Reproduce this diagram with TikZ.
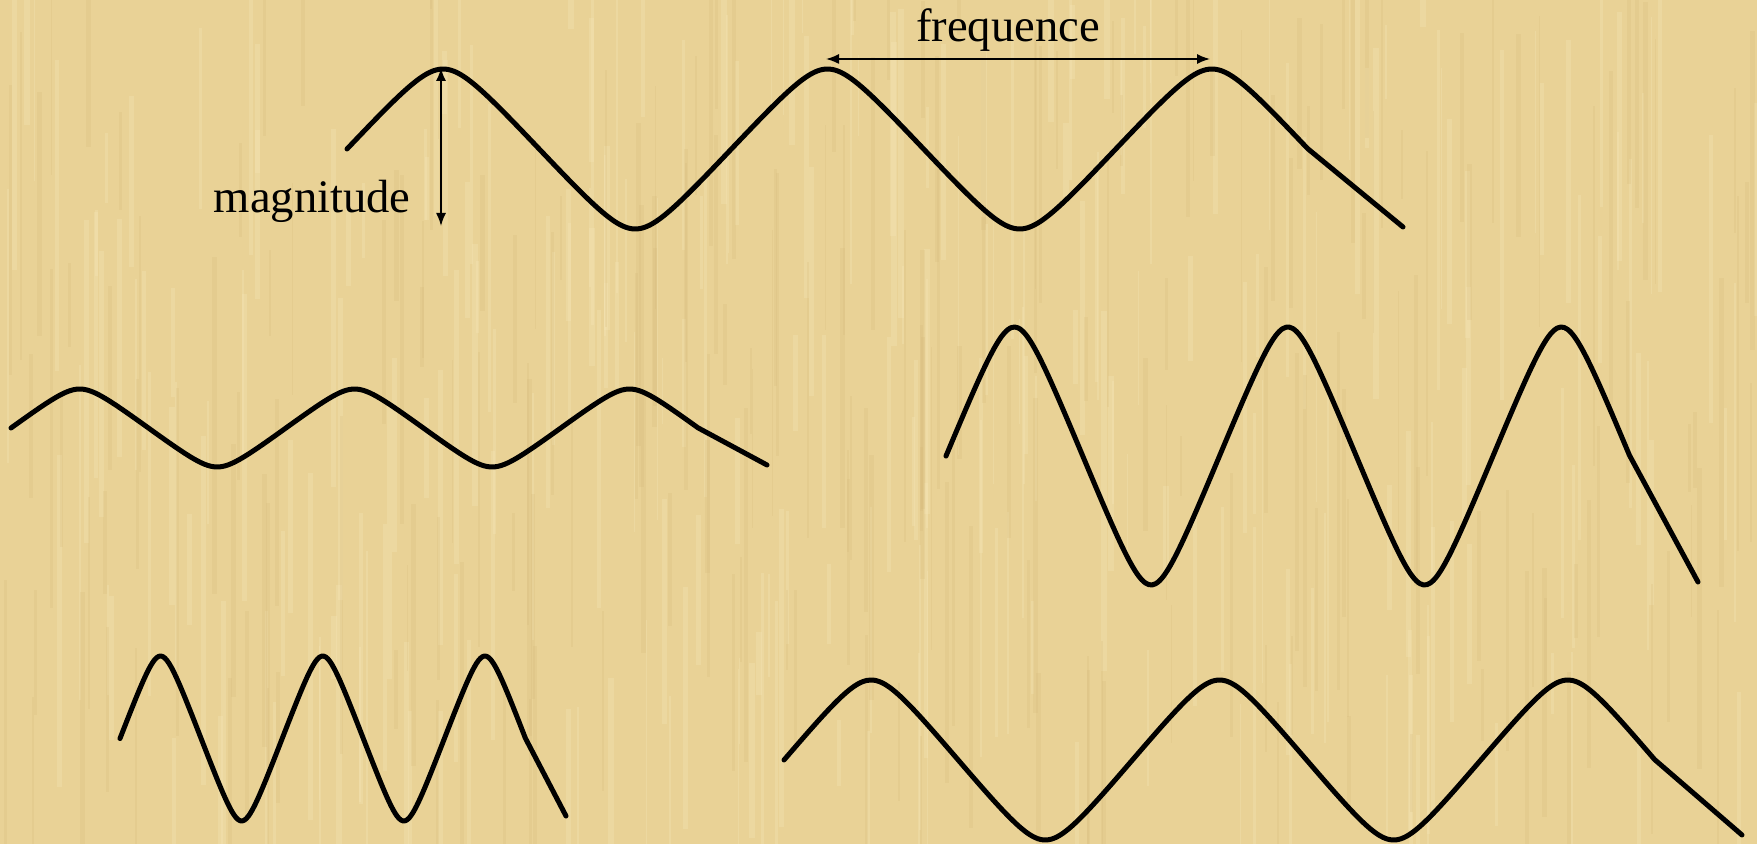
\documentclass[tikz,border=0pt]{standalone}
\usepackage{fontspec}
\setmainfont{Liberation Serif}
\usetikzlibrary{arrows.meta}
\definecolor{parch}{RGB}{233,210,150}
\definecolor{parchlight}{RGB}{246,230,185}
\definecolor{parchdark}{RGB}{212,183,118}
\tikzset{
  wave/.style={line width=2.5pt, line join=round, line cap=round, black},
  dimarrow/.style={line width=0.8pt, {Latex[length=6.5pt,width=5pt]}-{Latex[length=6.5pt,width=5pt]}},
  lbl/.style={inner sep=0pt, font=\fontsize{23.3}{28}\selectfont}
}
% sine sharpened towards a triangle, peaks stay rounded
\pgfmathdeclarefunction{tw}{1}{\pgfmathparse{asin(0.9*sin(#1*360))/asin(0.9)}}
\begin{document}
\begin{tikzpicture}[x=0.5pt,y=-0.5pt]
\useasboundingbox (0,0) rectangle (1757,844);
\begin{scope}
\clip (0,0) rectangle (1757,844);
\fill[parch] (0,0) rectangle (1757,844);
\pgfmathsetseed{7}
\foreach \i in {1,...,260}{
  \pgfmathsetmacro{\xx}{rnd*1757}
  \pgfmathsetmacro{\ww}{1+rnd*5}
  \pgfmathsetmacro{\yy}{rnd*844-100}
  \pgfmathsetmacro{\hh}{60+rnd*300}
  \fill[parchlight, opacity=0.3] (\xx,\yy) rectangle ++(\ww,\hh);
}
\foreach \i in {1,...,220}{
  \pgfmathsetmacro{\xx}{rnd*1757}
  \pgfmathsetmacro{\ww}{1+rnd*4}
  \pgfmathsetmacro{\yy}{rnd*844-100}
  \pgfmathsetmacro{\hh}{60+rnd*300}
  \fill[parchdark, opacity=0.2] (\xx,\yy) rectangle ++(\ww,\hh);
}
\end{scope}
% top wave
\coordinate (e1) at (1403,227);
\draw[wave] plot[domain=0:2.5,samples=200,smooth] ({347+\x*384.4},{149-80*tw(\x)}) -- (e1);
% middle left
\coordinate (e2) at (767,465);
\draw[wave] plot[domain=0:2.5,samples=200,smooth] ({11+\x*274.9},{428-39*tw(\x)}) -- (e2);
% middle right
\coordinate (e3) at (1698,582);
\draw[wave] plot[domain=0:2.5,samples=200,smooth] ({946+\x*273.5},{456-129*tw(\x)}) -- (e3);
% bottom left
\coordinate (e4) at (566,816);
\draw[wave] plot[domain=0:2.5,samples=200,smooth] ({120+\x*162.2},{738.5-82.5*tw(\x)}) -- (e4);
% bottom right
\coordinate (e5) at (1742,835);
\draw[wave] plot[domain=0:2.5,samples=200,smooth] ({784+\x*348.4},{760-80*tw(\x)}) -- (e5);
% dimension arrows
\coordinate (magtop) at (441,68);
\coordinate (magbot) at (441,226);
\coordinate (frl) at (826,59);
\coordinate (frr) at (1210,59);
\draw[dimarrow] (magtop) -- (magbot);
\draw[dimarrow] (frl) -- (frr);
\node[lbl, anchor=base east] (mag) at (411,213) {magnitude};
\node[lbl, anchor=base] (freq) at (1008,42) {frequence};
\end{tikzpicture}
\end{document}
